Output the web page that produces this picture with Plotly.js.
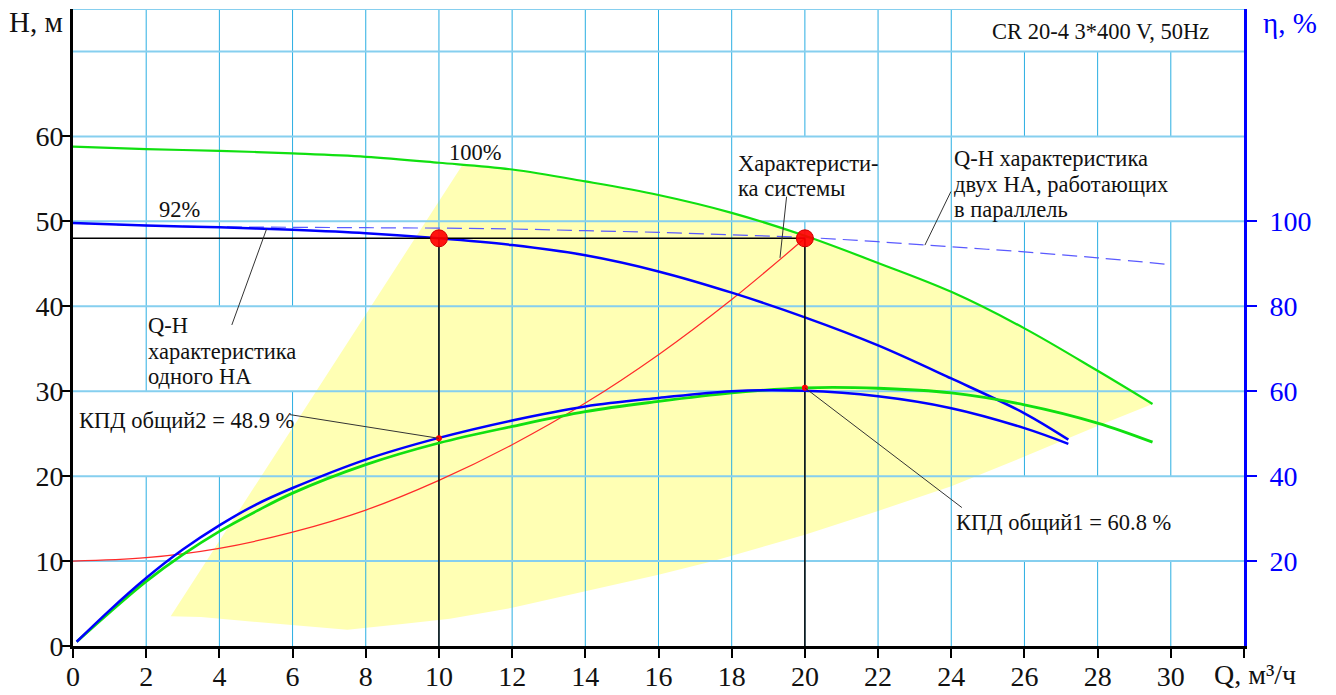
<!DOCTYPE html>
<html>
<head>
<meta charset="utf-8">
<script src="https://cdn.plot.ly/plotly-3.0.1.min.js"></script>
<style>html,body{margin:0;padding:0;background:#fff;}#chart{width:1336px;height:695px;}</style>
</head>
<body>
<div id="chart"></div>
<script>
// ---- data ----
const qHead100 = [0, 2, 4, 6, 8, 10, 12, 14, 16, 18, 20, 22, 24, 26, 28, 29.5];
const hHead100 = [58.8, 58.5, 58.3, 58.0, 57.6, 56.9, 56.1, 54.7, 53.1, 51.0, 48.3, 45.1, 41.7, 37.4, 32.4, 28.5];

const qHead92 = [0, 2, 4, 6, 8, 10, 12, 14, 16, 18, 20, 22, 24, 26, 27.2];
const hHead92 = [49.8, 49.5, 49.3, 49.0, 48.6, 48.0, 47.2, 46.0, 44.1, 41.6, 38.7, 35.4, 31.5, 27.4, 24.3];

const qParallel = [0, 2, 4, 6, 8, 10, 12, 14, 16, 18, 20, 22, 24, 26, 28, 30];
const hParallel = [49.8, 49.5, 49.35, 49.3, 49.25, 49.2, 49.1, 48.9, 48.7, 48.4, 48.1, 47.6, 47.0, 46.4, 45.7, 44.9];

const qSystem = [0, 2, 4, 6, 8, 10, 12, 14, 16, 18, 20];
const hSystem = [10, 10.4, 11.5, 13.4, 16.0, 19.5, 23.7, 28.6, 34.3, 40.8, 48.0];

const qEff100 = [0.1, 1, 2, 3, 4, 5, 6, 8, 10, 12, 14, 16, 18, 20, 22, 24, 26, 28, 29.5];
const eff100 = [1.0, 7.9, 15.2, 21.5, 27.0, 31.7, 36.0, 42.7, 47.8, 51.7, 55.2, 57.6, 59.6, 60.8, 60.7, 59.6, 56.8, 52.5, 48.0];

const qEff92 = [0.1, 1, 2, 3, 4, 5, 6, 8, 10, 12, 14, 16, 18, 20, 22, 24, 26, 27.2];
const eff92 = [1.0, 8.4, 16.0, 22.7, 28.4, 33.3, 37.2, 43.9, 49.0, 53.1, 56.4, 58.4, 60.0, 60.1, 58.8, 56.0, 51.3, 47.6];

const opQ = [10, 20];
const opH = [48, 48];
const effPtQ = [10, 20];
const effPtEta = [48.9, 60.8];

// operating range (yellow region) boundary
const regionQ = [10.65, 12, 14, 16, 18, 20, 22, 24, 26, 28, 29.5, 28, 26, 24, 22, 20, 17.5, 16, 14, 12, 10.3, 9, 7.5, 5.9, 3.5, 2.67];
const regionH = [56.7, 56.1, 54.7, 53.1, 51.0, 48.3, 45.1, 41.7, 37.4, 32.4, 28.5, 25.9, 22.3, 18.8, 15.9, 13.1, 10.0, 8.4, 6.45, 4.5, 3.2, 2.6, 1.9, 2.5, 3.4, 3.5];

const xTickVals = [0, 2, 4, 6, 8, 10, 12, 14, 16, 18, 20, 22, 24, 26, 28, 30, 32];
const xTickText = ['0', '2', '4', '6', '8', '10', '12', '14', '16', '18', '20', '22', '24', '26', '28', '30', ''];
const yTickVals = [0, 10, 20, 30, 40, 50, 60];
const y2TickVals = [20, 40, 60, 80, 100];

// ---- layout helpers ----
const FONT = '"Liberation Serif", "Times New Roman", Times, "DejaVu Serif", serif';
const X_MAX = 32, Y_MAX = 75;
const gridXs = [2, 4, 6, 8, 10, 12, 14, 16, 18, 20, 22, 24, 26, 28, 30];
const gridYs = [10, 20, 30, 40, 50, 60, 70, 75];
// parts of vertical grid hidden behind label boxes: [x, from, to]
const gridGaps = [
  [2, 20, 30], [4, 20, 30],
  [4, 30, 40], [6, 30, 40],
  [20, 50, 60],
  [26, 50, 60], [28, 50, 60], [30, 50, 60],
  [26, 70, 75], [28, 70, 75], [30, 70, 75],
  [26, 10, 20], [28, 10, 20], [30, 10, 20]
];

const shapes = [];
shapes.push({
  type: 'path', xref: 'x', yref: 'y', layer: 'below',
  path: 'M ' + regionQ.map((q, i) => q + ',' + regionH[i]).join(' L ') + ' Z',
  fillcolor: '#ffffb4', line: {width: 0}
});
gridXs.forEach(x => {
  const gaps = gridGaps.filter(g => g[0] === x).sort((a, b) => a[1] - b[1]);
  let start = 0;
  gaps.forEach(g => {
    if (g[1] > start) shapes.push({type: 'line', xref: 'x', yref: 'y', layer: 'below', x0: x, x1: x, y0: start, y1: g[1], line: {color: '#2aaee2', width: 1}});
    start = g[2];
  });
  if (start < Y_MAX) shapes.push({type: 'line', xref: 'x', yref: 'y', layer: 'below', x0: x, x1: x, y0: start, y1: Y_MAX, line: {color: '#2aaee2', width: 1}});
});
gridYs.forEach(y => {
  shapes.push({type: 'line', xref: 'x', yref: 'y', layer: 'below', x0: 0, x1: X_MAX, y0: y, y1: y, line: {color: '#86cfef', width: 2}});
});
// leader lines for labels
const leaders = [
  [5.93, 27.24, 10, 24.45],
  [20, 30.4, 24.29, 16.3],
  [19.5, 52.9, 19.32, 45.7],
  [23.99, 53.5, 23.28, 47.2],
  [5.29, 49.1, 4.34, 37.8]
];
leaders.forEach(l => shapes.push({type: 'line', xref: 'x', yref: 'y', layer: 'above', x0: l[0], y0: l[1], x1: l[2], y1: l[3], line: {color: '#333333', width: 1}}));

// ---- traces ----
const traces = [];
traces.push({x: qSystem, y: hSystem, mode: 'lines', line: {color: '#ff2a2a', width: 1.2, shape: 'spline'}, hoverinfo: 'skip'});
traces.push({x: qParallel, y: hParallel, mode: 'lines', line: {color: '#5a5aff', width: 1.2, dash: '15px,7px', shape: 'spline'}, hoverinfo: 'skip'});
traces.push({x: qHead100, y: hHead100, mode: 'lines', line: {color: '#10e010', width: 2.2, shape: 'spline'}, hoverinfo: 'skip'});
traces.push({x: qHead92, y: hHead92, mode: 'lines', line: {color: '#0000ff', width: 2.5, shape: 'spline'}, hoverinfo: 'skip'});
traces.push({x: qEff100, y: eff100, yaxis: 'y2', mode: 'lines', line: {color: '#10e010', width: 2.8, shape: 'spline'}, hoverinfo: 'skip'});
traces.push({x: qEff92, y: eff92, yaxis: 'y2', mode: 'lines', line: {color: '#0000ff', width: 2.5, shape: 'spline'}, hoverinfo: 'skip'});
// operating lines
const opLineX = [0, Math.max(...opQ)], opLineY = [opH[0], opH[0]];
opQ.forEach((q, i) => { opLineX.push(null, q, q); opLineY.push(null, 0, opH[i]); });
traces.push({x: opLineX, y: opLineY, mode: 'lines', line: {color: '#000000', width: 1.5}, hoverinfo: 'skip', connectgaps: false});
traces.push({x: effPtQ, y: effPtEta, yaxis: 'y2', mode: 'markers', marker: {color: '#ff0000', size: 6}, hoverinfo: 'skip'});
traces.push({x: opQ, y: opH, mode: 'markers', marker: {color: 'rgba(255,0,0,0.92)', size: 17, line: {color: '#d00000', width: 1}}, hoverinfo: 'skip'});

// ---- annotations ----
const ann = (text, x, y, opts) => Object.assign({text: text, x: x, y: y, xref: 'x', yref: 'y', showarrow: false, xanchor: 'left', yanchor: 'middle', font: {family: FONT, size: 22.5, color: '#111'}}, opts || {});
const annotations = [
  ann('100%', 11.01, 58.06, {xanchor: 'center'}),
  ann('92%', 2.90, 51.35, {xanchor: 'center'}),
  ann('Характеристи-', 18.12, 56.76),
  ann('ка системы', 18.12, 53.82),
  ann('Q-H характеристика', 24.02, 57.35),
  ann('двух НА, работающих', 24.02, 54.29),
  ann('в параллель', 24.02, 51.35),
  ann('Q-H', 2.0, 37.76),
  ann('характеристика', 2.0, 34.71),
  ann('одного НА', 2.0, 31.71),
  ann('КПД общий2 = 48.9 %', 0.11, 26.59),
  ann('КПД общий1 = 60.8 %', 24.08, 14.53),
  ann('CR 20-4 3*400 V, 50Hz', 25.06, 72.35),
  {text: 'H, м', xref: 'paper', yref: 'paper', x: -0.0316, y: 0.979, showarrow: false, xanchor: 'center', yanchor: 'middle', font: {family: FONT, size: 29, color: '#111'}},
  {text: 'η, %', xref: 'paper', yref: 'paper', x: 1.0393, y: 0.978, showarrow: false, xanchor: 'center', yanchor: 'middle', font: {family: FONT, size: 29, color: '#0000ff'}},
  {text: 'Q, м³/ч', xref: 'paper', yref: 'paper', x: 1.0094, y: -0.0447, showarrow: false, xanchor: 'center', yanchor: 'middle', font: {family: FONT, size: 28, color: '#111'}}
];

const layout = {
  width: 1336, height: 695,
  font: {family: FONT},
  margin: {l: 73, r: 92, t: 9, b: 49, pad: 0},
  paper_bgcolor: '#ffffff', plot_bgcolor: '#ffffff',
  showlegend: false,
  xaxis: {
    range: [0, X_MAX], showgrid: false, zeroline: false,
    showline: true, linecolor: '#000', linewidth: 3,
    ticks: 'outside', ticklen: 9, tickwidth: 2, tickcolor: '#000',
    tickmode: 'array', tickvals: xTickVals, ticktext: xTickText,
    tickfont: {family: FONT, size: 28, color: '#111'}, ticklabelstandoff: -6
  },
  yaxis: {
    range: [0, Y_MAX], showgrid: false, zeroline: false,
    showline: true, linecolor: '#000', linewidth: 3,
    ticks: 'outside', ticklen: 9, tickwidth: 2, tickcolor: '#000',
    tickmode: 'array', tickvals: yTickVals,
    tickfont: {family: FONT, size: 28, color: '#111'}, ticklabelstandoff: -8
  },
  yaxis2: {
    overlaying: 'y', side: 'right', range: [0, 2 * Y_MAX],
    showgrid: false, zeroline: false,
    showline: true, linecolor: '#0000ff', linewidth: 3,
    ticks: 'outside', ticklen: 10, tickwidth: 2, tickcolor: '#0000ff',
    tickmode: 'array', tickvals: y2TickVals,
    tickfont: {family: FONT, size: 28, color: '#0000ff'}, ticklabelstandoff: 7
  },
  shapes: shapes,
  annotations: annotations
};

Plotly.newPlot('chart', traces, layout, {staticPlot: true, displayModeBar: false});
</script>
</body>
</html>
